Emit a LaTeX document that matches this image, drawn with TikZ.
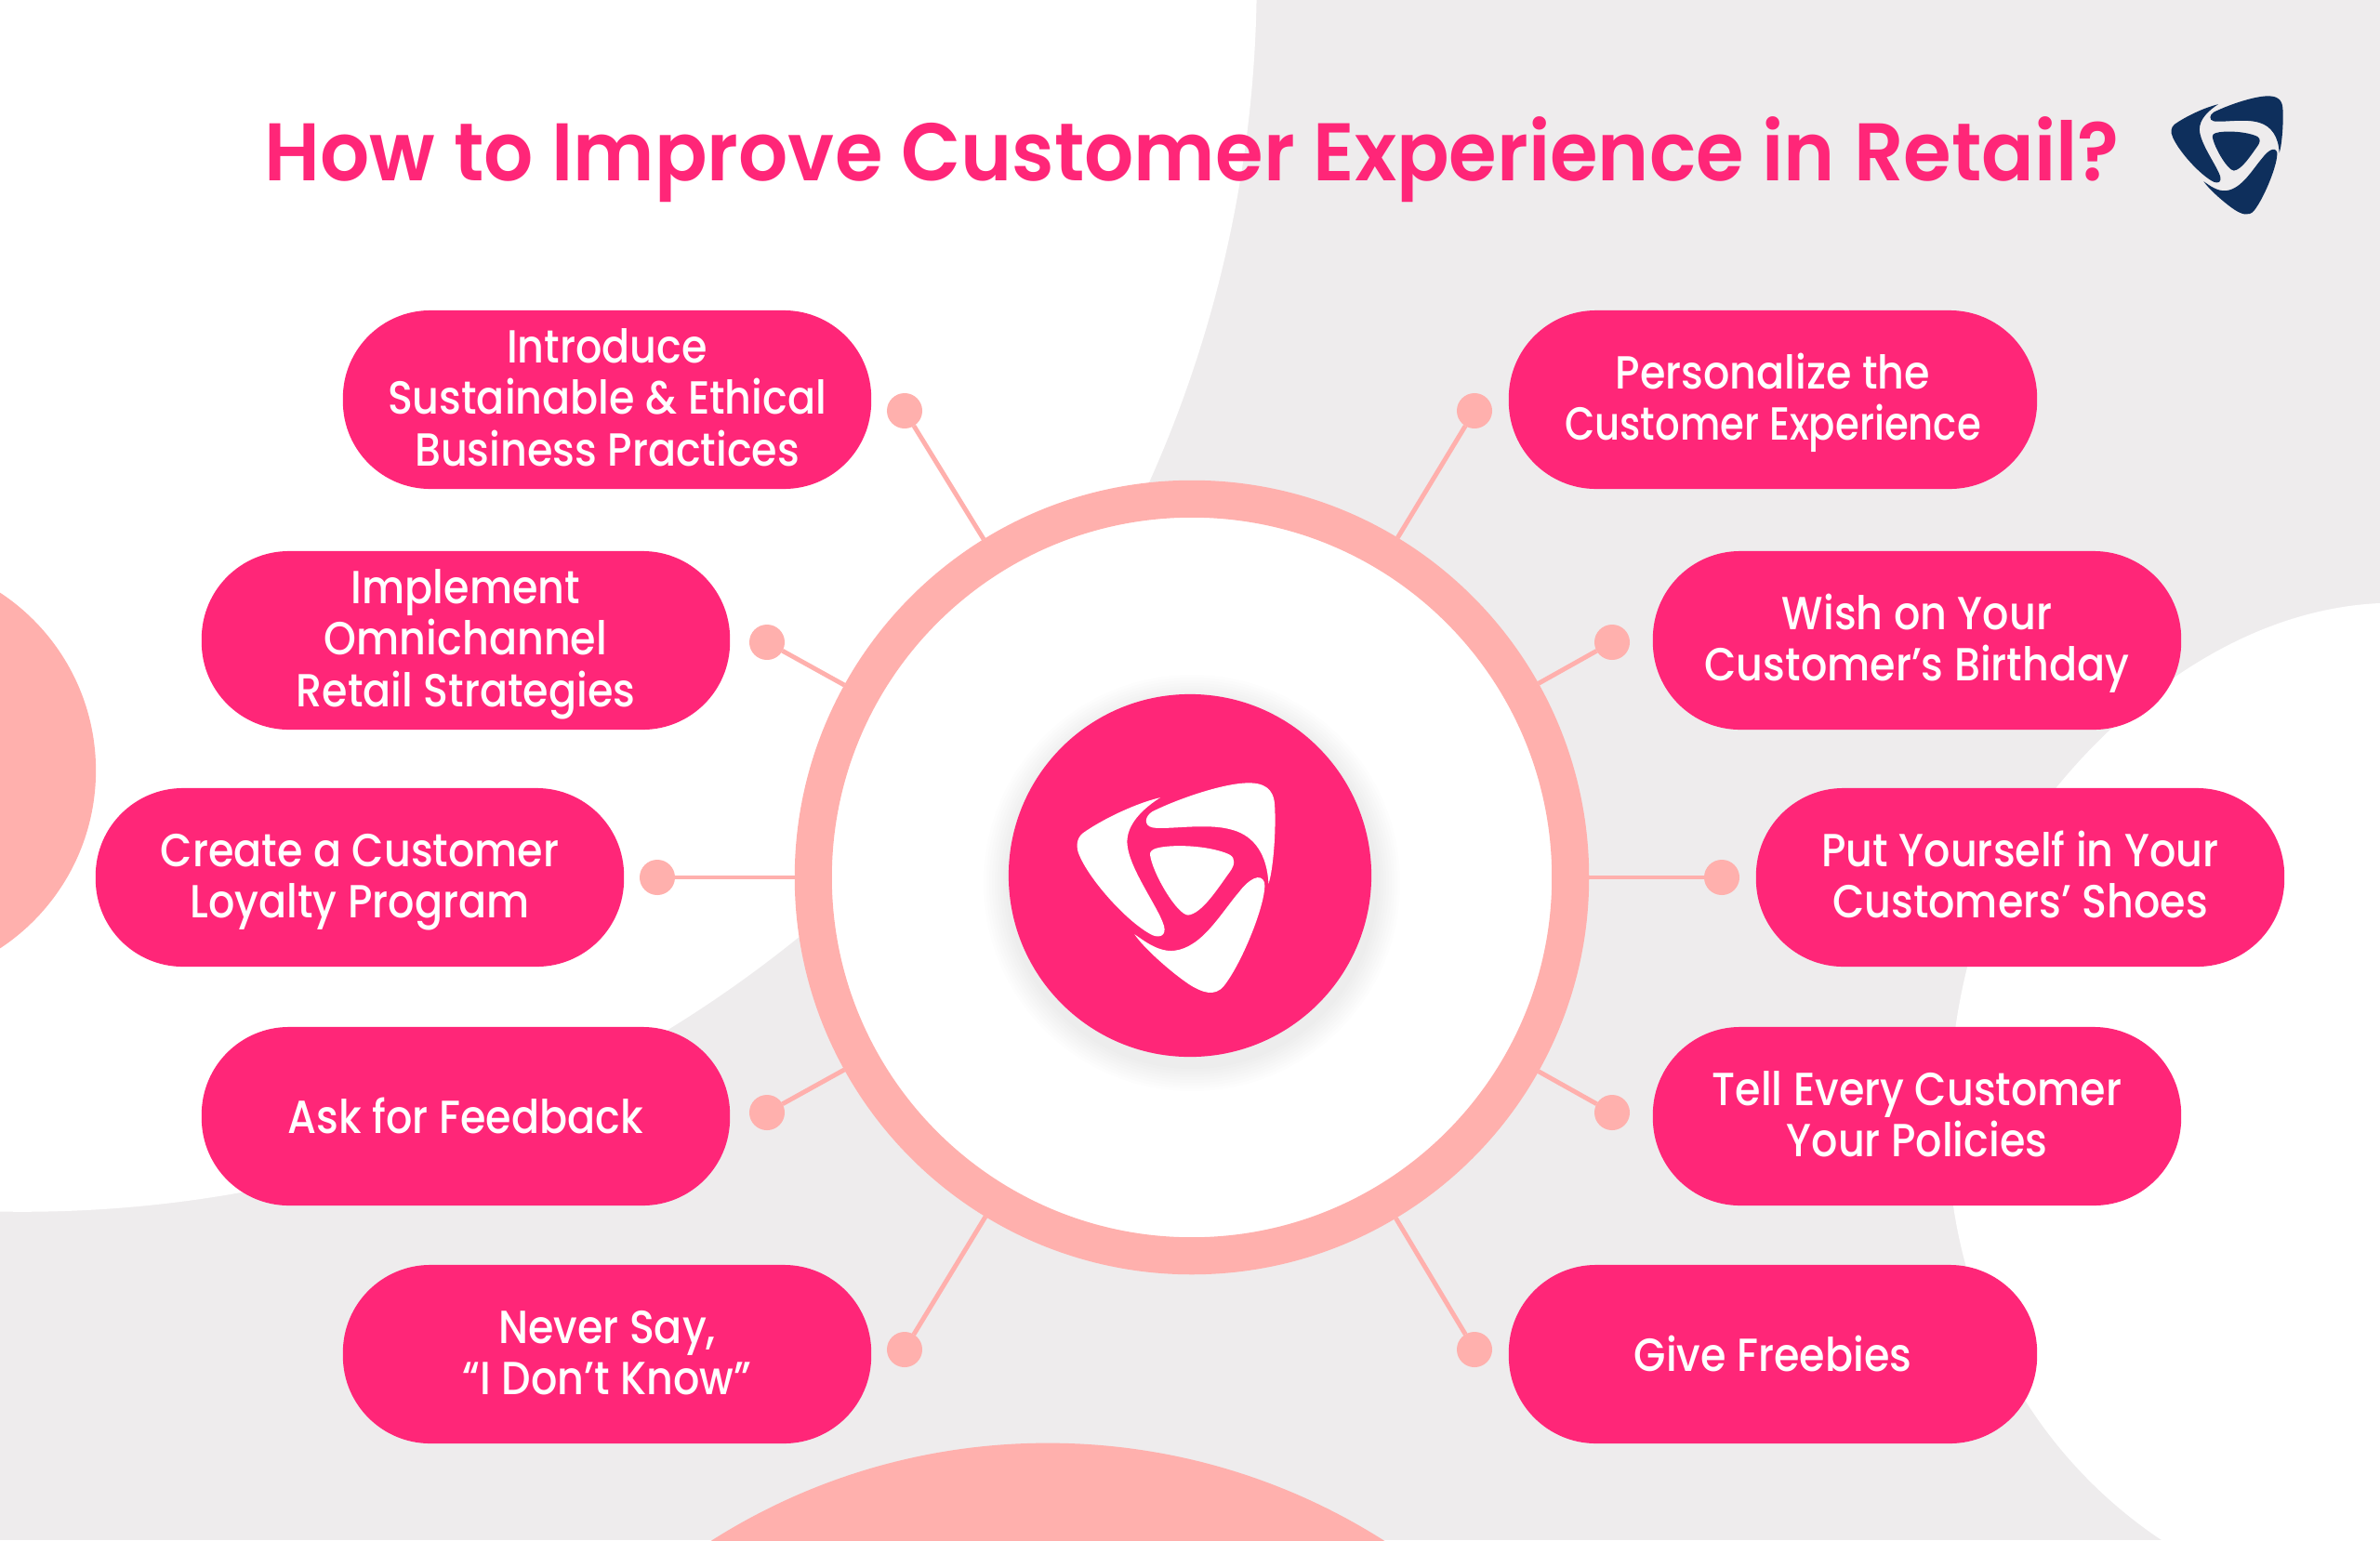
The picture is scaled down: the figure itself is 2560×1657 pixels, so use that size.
\documentclass[tikz,border=0pt]{standalone}
\usepackage{fontspec}
\usepackage{graphicx}
\setmainfont{Poppins}[UprightFont=*-Medium,BoldFont=*-SemiBold,FakeStretch=0.89]
\newfontfamily\titlefont{Poppins}[UprightFont=*-SemiBold,FakeStretch=0.95]
\usetikzlibrary{calc}
\definecolor{hot}{HTML}{FF2678}
\definecolor{blush}{HTML}{FFB0AD}
\definecolor{mist}{HTML}{EEECED}
\definecolor{navy}{HTML}{0E2F5C}
\newcommand{\ptop}{\rule{0pt}{0.97em}}
\newcommand{\ptopone}{\rule{0pt}{1.07em}}
\newcommand{\pbot}{\rule[-0.33em]{0pt}{0.33em}}
\newcommand{\logoshapes}[2]{%
\begin{scope}[shift={#1},x=#2cm,y=-#2cm]
\path[fill=.,even odd rule] (625,415) .. controls (540,435) and (430,490) .. (375,530) .. controls (355,545) and (350,575) .. (365,605) .. controls (400,685) and (520,820) .. (600,860) .. controls (625,870) and (645,860) .. (637,830) .. controls (620,770) and (520,640) .. (518,560) .. controls (517,500) and (570,450) .. (625,415) -- cycle
(975,693) .. controls (990,650) and (1000,520) .. (995,440) .. controls (992,385) and (960,365) .. (900,368) .. controls (820,372) and (680,420) .. (600,460) .. controls (575,475) and (570,505) .. (600,512) .. controls (650,520) and (780,495) .. (860,520) .. controls (930,540) and (970,600) .. (975,693) -- cycle
(592,600) .. controls (590,580) and (620,575) .. (660,572) .. controls (730,568) and (810,580) .. (850,600) .. controls (870,612) and (865,635) .. (850,655) .. controls (810,710) and (760,790) .. (715,795) .. controls (680,795) and (600,660) .. (592,600) -- cycle
(542,857) .. controls (575,880) and (620,915) .. (670,910) .. controls (760,900) and (820,790) .. (880,720) .. controls (910,680) and (950,655) .. (962,690) .. controls (970,750) and (890,950) .. (830,1025) .. controls (800,1060) and (760,1045) .. (720,1020) .. controls (660,980) and (570,900) .. (542,857) -- cycle;
\end{scope}}
\tikzset{
  x=0.01cm,y=-0.01cm,
  pill/.style={fill=hot,rounded corners=0.94cm,minimum width=5.68cm,minimum height=1.92cm,inner sep=0pt,text=white,align=center,font=\fontsize{14.2}{15.7}\selectfont,execute at end node=\pbot},
  dotnode/.style={circle,fill=blush,minimum size=0.38cm,inner sep=0pt,outer sep=0pt},
  link/.style={draw=blush,line width=1.4pt},
  ringnode/.style={circle,draw=blush,fill=white,line width=0.4cm,minimum size=8.14cm,inner sep=0pt},
}
\begin{document}
\begin{tikzpicture}
\useasboundingbox (0,0) rectangle (2560,1657);
\fill[mist] (0,0) rectangle (2560,1657);
\begin{scope}
\clip (0,0) rectangle (2560,1657);
\fill[white] (24,-24) circle[radius=13.27cm];
\fill[white] (2560,649) .. controls (2424,655) and (2300,740) .. (2213,846) .. controls (2140,935) and (2095,1050) .. (2095,1230) .. controls (2100,1400) and (2180,1560) .. (2325,1657) -- (2560,1657) -- cycle;
\fill[blush] (-126,829) circle[radius=2.29cm];
\fill[blush] (1127,2228) circle[radius=6.75cm];
\end{scope}
% connectors
\node[ringnode] (ring) at (1282,944) {};
\node[dotnode] (d1) at (973,442) {};
\node[dotnode] (d2) at (825,691) {};
\node[dotnode] (d3) at (707,944) {};
\node[dotnode] (d4) at (825,1197) {};
\node[dotnode] (d5) at (973,1452) {};
\node[dotnode] (d6) at (1586,442) {};
\node[dotnode] (d7) at (1734,691) {};
\node[dotnode] (d8) at (1852,944) {};
\node[dotnode] (d9) at (1734,1197) {};
\node[dotnode] (d10) at (1586,1452) {};
\foreach \i in {1,...,10} \draw[link] (d\i) -- (ring);
% centre disc with soft shadow
\foreach \r in {2.00,2.03,...,2.26} \fill[black,opacity=.007] (1282,950) circle[radius=\r cm];
\node[circle,fill=hot,minimum size=3.9cm,inner sep=0pt] (hub) at (1280,942) {};
\begin{scope}[color=white]\logoshapes{(1040,720)}{0.003333}\end{scope}
% top logo
\begin{scope}[color=navy]\logoshapes{(2268.6,34.3)}{0.00188}\end{scope}
\node[text=hot,inner sep=0pt,font=\titlefont\fontsize{25}{30}\selectfont] (title) at (1282,172) {How to Improve Customer Experience in Retail?};
\node[pill] (p1) at (653,430) {\ptop Introduce\\Sustainable \& Ethical\\Business Practices};
\node[pill] (p2) at (501,689) {\ptop Implement\\Omnichannel\\Retail Strategies};
\node[pill] (p3) at (387,944) {\ptop Create a Customer\\Loyalty Program};
\node[pill] (p4) at (501,1201) {\ptopone Ask for Feedback};
\node[pill] (p5) at (653,1457) {\ptop Never Say,\\“I Don’t Know”};
\node[pill] (p6) at (1907,430) {\ptop Personalize the\\\scalebox{0.94}[1]{Customer Experience}};
\node[pill] (p7) at (2062,689) {\ptop Wish on Your\\Customer’s Birthday};
\node[pill] (p8) at (2173,944) {\ptop Put Yourself in Your\\Customers’ Shoes};
\node[pill] (p9) at (2062,1201) {\ptop Tell Every Customer\\Your Policies};
\node[pill] (p10) at (1907,1457) {\ptopone Give Freebies};
\end{tikzpicture}
\end{document}
